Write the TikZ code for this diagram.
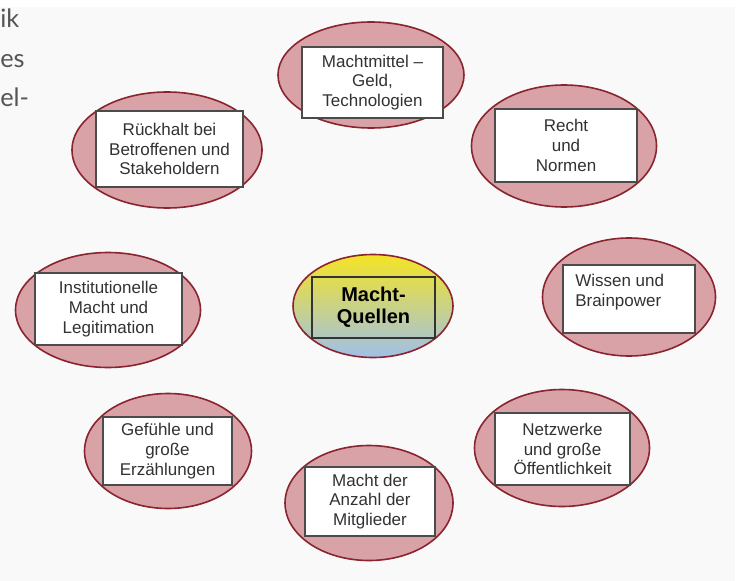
\documentclass[tikz,border=0pt]{standalone}
\usepackage{fontspec}
\setmainfont{Liberation Sans}
\newfontfamily\randfont{Lato}
\usepackage{tikz}
\usetikzlibrary{shapes}

\definecolor{ringfill}{RGB}{216,162,167}
\definecolor{ringline}{RGB}{138,36,46}
\definecolor{boxline}{RGB}{75,75,75}
\definecolor{txtgrey}{RGB}{50,50,50}
\definecolor{randgrey}{RGB}{85,85,85}
\definecolor{pagegrey}{RGB}{249,249,249}
\definecolor{qtop}{RGB}{244,228,36}
\definecolor{qmid}{RGB}{222,226,120}
\definecolor{qbot}{RGB}{160,192,232}

\begin{document}
\begin{tikzpicture}[x=0.75pt, y=-0.75pt,
		ring/.style={ellipse, draw=ringline, line width=1.2pt, fill=ringfill, inner sep=0pt, outer sep=0pt},
		srcbox/.style={rectangle, draw=boxline, line width=0.9pt, fill=white, inner sep=0pt, align=center,
			text=txtgrey, font=\fontsize{12.75}{14.75}\selectfont},
		randtxt/.style={anchor=base west, inner sep=0pt, text=randgrey, font=\randfont\fontsize{19}{21}\selectfont}]
		\useasboundingbox (0, 0) rectangle (738, 581);
		\fill[pagegrey] (0, 7) rectangle (735, 581);

		% Textreste links oben
		\draw (0, 28)  node[randtxt] (rand1) {ik};
		\draw (0, 68)  node[randtxt] (rand2) {es};
		\draw (0, 107) node[randtxt] (rand3) {el-};

		% Quellen rundherum
		\draw (371, 75) node[ring, minimum width=139.5pt, minimum height=79.5pt] (geld) {};
		\draw (372.5, 82.5) node[srcbox, minimum width=105.75pt, minimum height=53.25pt] (geldbox)
			{Machtmittel –\\Geld,\\Technologien};

		\draw (167, 150) node[ring, minimum width=142.5pt, minimum height=87pt] (rueckhalt) {};
		\draw (169.5, 149) node[srcbox, minimum width=110.25pt, minimum height=57pt] (rueckhaltbox)
			{Rückhalt bei\\Betroffenen und\\Stakeholdern};

		\draw (564, 146) node[ring, minimum width=138.75pt, minimum height=91.5pt] (recht) {};
		\draw (566, 145.5) node[srcbox, minimum width=106.5pt, minimum height=54.75pt] (rechtbox)
			{Recht\\und\\Normen};

		\draw (629, 297) node[ring, minimum width=129.75pt, minimum height=88.5pt] (wissen) {};
		\draw (629, 299) node[srcbox, minimum width=99pt, minimum height=51pt] (wissenbox) {};
		\draw (575, 274) node[anchor=north west, inner sep=0pt, align=left, text=txtgrey,
			font=\fontsize{12.75}{14.75}\selectfont] (wissentxt) {Wissen und\\Brainpower};

		\draw (108, 310) node[ring, minimum width=138.75pt, minimum height=86.25pt] (institution) {};
		\draw (108.5, 309) node[srcbox, minimum width=110.25pt, minimum height=54pt] (institutionbox)
			{Institutionelle\\Macht und\\Legitimation};

		\draw (168, 451) node[ring, minimum width=125.25pt, minimum height=86.25pt] (gefuehle) {};
		\draw (167.5, 451) node[srcbox, minimum width=96.75pt, minimum height=51pt] (gefuehlebox)
			{Gefühle und\\große\\Erzählungen};

		\draw (369, 503) node[ring, minimum width=126pt, minimum height=86.25pt] (anzahl) {};
		\draw (370, 501.5) node[srcbox, minimum width=97.5pt, minimum height=51.75pt] (anzahlbox)
			{Macht der\\Anzahl der\\Mitglieder};

		\draw (562, 448) node[ring, minimum width=131.25pt, minimum height=87.75pt] (netzwerke) {};
		\draw (562.5, 449) node[srcbox, minimum width=101.25pt, minimum height=54pt] (netzwerkebox)
			{Netzwerke\\und große\\Öffentlichkeit};

		% Mitte
		\draw (373, 306) node[ring, top color=qtop, middle color=qmid, bottom color=qbot,
			minimum width=120pt, minimum height=77.25pt] (quellen) {};
		\draw (373.5, 307.5) node[srcbox, fill=none, draw=black!80, text=black,
			font=\fontsize{15}{16.5}\selectfont\bfseries, minimum width=92.25pt, minimum height=45.75pt] (quellenbox)
			{Macht-\\Quellen};

	\end{tikzpicture}
\end{document}
